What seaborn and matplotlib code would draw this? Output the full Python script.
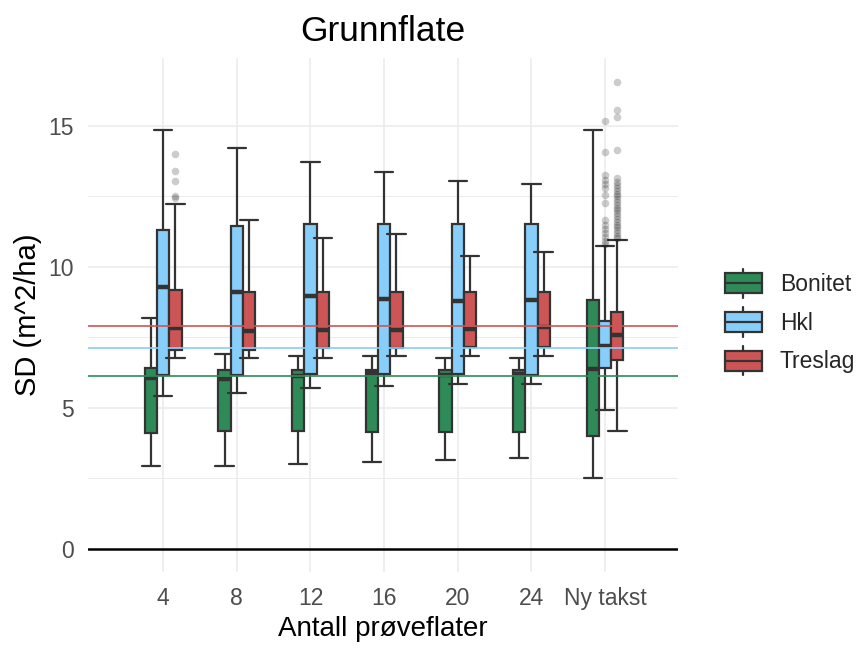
import numpy as np
import pandas as pd
import matplotlib
matplotlib.use("Agg")
import matplotlib.pyplot as plt
import seaborn as sns
from matplotlib.legend_handler import HandlerBase
from matplotlib.patches import Rectangle, Patch
from matplotlib.lines import Line2D

# ---------------- data ----------------
categories = ["4", "8", "12", "16", "20", "24", "Ny takst"]
groups = ["Bonitet", "Hkl", "Treslag"]

bonitet_low = [2.92, 2.92, 3.00, 3.07, 3.16, 3.22, 2.51]
bonitet_q1 = [4.12, 4.18, 4.18, 4.14, 4.14, 4.14, 3.98]
bonitet_med = [6.05, 6.02, 6.12, 6.22, 6.15, 6.20, 6.37]
bonitet_q3 = [6.41, 6.35, 6.35, 6.35, 6.35, 6.35, 8.83]
bonitet_high = [8.18, 6.91, 6.82, 6.82, 6.76, 6.78, 14.86]

hkl_low = [5.43, 5.54, 5.70, 5.78, 5.85, 5.85, 4.93]
hkl_q1 = [6.17, 6.17, 6.20, 6.20, 6.20, 6.17, 6.41]
hkl_med = [9.28, 9.09, 8.95, 8.87, 8.79, 8.83, 7.20]
hkl_q3 = [11.31, 11.45, 11.51, 11.51, 11.51, 11.52, 8.09]
hkl_high = [14.86, 14.21, 13.72, 13.38, 13.03, 12.94, 10.74]

treslag_low = [6.76, 6.76, 6.76, 6.82, 6.84, 6.84, 4.16]
treslag_q1 = [7.06, 7.06, 7.12, 7.12, 7.17, 7.15, 6.68]
treslag_med = [7.83, 7.74, 7.76, 7.76, 7.80, 7.85, 7.59]
treslag_q3 = [9.17, 9.10, 9.10, 9.10, 9.10, 9.10, 8.39]
treslag_high = [12.23, 11.67, 11.04, 11.16, 10.39, 10.52, 10.96]

treslag_4_outliers = [14.0, 13.4, 13.05, 12.5, 12.45]
hkl_ny_outliers = [15.19, 14.07, 13.25, 13.1, 12.95, 12.8, 12.55, 12.27,
                   11.67, 11.5, 11.35, 11.2, 11.05, 10.9, 10.8]
treslag_ny_outliers = [16.57, 15.57, 15.33, 14.15, 13.16, 13.0, 12.9, 12.8,
                       12.7, 12.6, 12.5, 12.4, 12.3, 12.2, 12.1, 12.0, 11.9,
                       11.8, 11.7, 11.6, 11.5, 11.4, 11.3, 11.2, 11.1, 11.03]

ref_lines = {"Bonitet": 6.13, "Hkl": 7.12, "Treslag": 7.91}

colors = {"Bonitet": "#2E8B57", "Hkl": "#87CEFA", "Treslag": "#CD5555"}

# ---------------- build long table of five-number summaries ----------------
summaries = {
    "Bonitet": [bonitet_low, bonitet_q1, bonitet_med, bonitet_q3, bonitet_high],
    "Hkl": [hkl_low, hkl_q1, hkl_med, hkl_q3, hkl_high],
    "Treslag": [treslag_low, treslag_q1, treslag_med, treslag_q3, treslag_high],
}
rows = []
for g, stats in summaries.items():
    for i, c in enumerate(categories):
        for s in stats:
            rows.append({"Antall": c, "Gruppe": g, "SD": s[i]})
df = pd.DataFrame(rows)

outliers = pd.DataFrame(
    [{"Antall": "4", "Gruppe": "Treslag", "SD": v} for v in treslag_4_outliers]
    + [{"Antall": "Ny takst", "Gruppe": "Hkl", "SD": v} for v in hkl_ny_outliers]
    + [{"Antall": "Ny takst", "Gruppe": "Treslag", "SD": v} for v in treslag_ny_outliers]
)

# ---------------- styling ----------------
sns.set_theme(style="whitegrid")
plt.rcParams["font.family"] = ["Liberation Sans", "DejaVu Sans"]
plt.rcParams["axes.edgecolor"] = "white"

EDGE = "#333333"
LW = 1.6
GROUP_W = 0.5
BOX_W = GROUP_W / len(groups)

fig = plt.figure(figsize=(8.68, 6.5), dpi=100)
ax = fig.add_axes([88 / 868, 78 / 650, 590 / 868, 514.5 / 650])

sns.boxplot(
    data=df, x="Antall", y="SD", hue="Gruppe",
    order=categories, hue_order=groups, palette=colors,
    width=GROUP_W, gap=0, dodge=True, saturation=1,
    whis=(0, 100), showfliers=False,
    linecolor=EDGE, linewidth=LW,
    medianprops={"linewidth": 3.2, "color": EDGE},
    capwidths=0.25,
    legend=False, ax=ax,
)

# outliers at dodged box positions
xpos = [categories.index(c) + (groups.index(g) - 1) * BOX_W
        for c, g in zip(outliers["Antall"], outliers["Gruppe"])]
ax.scatter(xpos, outliers["SD"], s=30, color="black", alpha=0.2,
           linewidths=0, zorder=4)

# reference lines
for g in groups:
    ax.axhline(ref_lines[g], color=colors[g], lw=1.2, zorder=3)
ax.axhline(0, color="black", lw=1.8, zorder=3)

ax.set_xlim(-1.02, 6.99)
ax.set_ylim(-0.83, 17.43)
ax.set_yticks([0, 5, 10, 15])
ax.set_yticks([2.5, 7.5, 12.5], minor=True)
ax.grid(True, which="major", color="#EBEBEB", lw=1.1)
ax.grid(True, which="minor", axis="y", color="#EBEBEB", lw=0.7)
ax.set_axisbelow(True)
for sp in ax.spines.values():
    sp.set_visible(False)

ax.tick_params(axis="x", which="both", length=0, pad=11, labelsize=16.5,
               labelcolor="#4D4D4D")
ax.tick_params(axis="y", which="both", length=0, pad=10, labelsize=16.5,
               labelcolor="#4D4D4D")
ax.set_xlabel("Antall prøveflater", fontsize=20, color="black", labelpad=4)
ax.set_ylabel("SD (m^2/ha)", fontsize=21, color="black", labelpad=5)
ax.set_title("Grunnflate", fontsize=25.5, color="black", pad=12)


# legend with boxplot-style keys
class BoxKey(HandlerBase):
    def create_artists(self, legend, orig_handle, xdescent, ydescent,
                       width, height, fontsize, trans):
        fc = orig_handle.get_facecolor()
        x0, y0 = -xdescent, -ydescent
        cx = x0 + width / 2
        bb = y0 + height * 0.16
        bt = y0 + height * 0.84
        w1 = Line2D([cx, cx], [y0, bb], color=EDGE, lw=LW, transform=trans)
        w2 = Line2D([cx, cx], [bt, y0 + height], color=EDGE, lw=LW, transform=trans)
        rect = Rectangle((x0, bb), width, bt - bb, facecolor=fc,
                         edgecolor=EDGE, lw=LW, transform=trans)
        med = Line2D([x0, x0 + width], [y0 + height / 2] * 2, color=EDGE,
                     lw=LW, transform=trans)
        return [w1, w2, rect, med]


handles = [Patch(facecolor=colors[g], edgecolor=EDGE) for g in groups]
fig.legend(
    handles, groups, handler_map={Patch: BoxKey()},
    loc="center left", bbox_to_anchor=(725 / 868, 1 - 322 / 650),
    bbox_transform=fig.transFigure, frameon=False, fontsize=16.5,
    handlelength=1.6, handleheight=1.58, labelspacing=0.42,
    handletextpad=0.8, borderpad=0, borderaxespad=0,
)

fig.savefig("out.png", dpi=100, facecolor="white")
